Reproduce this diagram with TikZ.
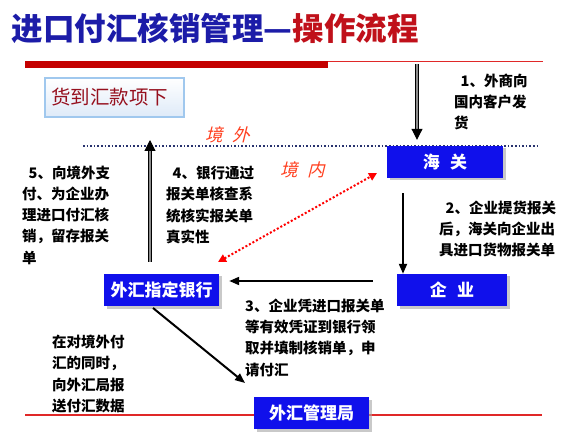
\documentclass[tikz,border=0pt]{standalone}
\usepackage{fontspec}
\setmainfont{Noto Sans CJK SC}
\newfontfamily\slantcjk{Noto Sans CJK SC}[FakeSlant=0.25]
\usetikzlibrary{arrows.meta,shadows}
\definecolor{titleblue}{RGB}{28,28,168}
\definecolor{titlered}{RGB}{192,16,26}
\definecolor{thickred}{RGB}{196,0,0}
\definecolor{thinred}{RGB}{224,40,40}
\definecolor{boxblue}{RGB}{16,16,235}
\definecolor{dotblue}{RGB}{40,50,110}
\definecolor{zoneread}{RGB}{255,64,32}
\definecolor{lightframe}{RGB}{160,200,238}
\definecolor{lightfill}{RGB}{222,234,248}
\definecolor{darkred}{RGB}{150,16,30}
\tikzset{
  bluebox/.style={fill=boxblue, text=white, inner sep=0pt, minimum height=32pt,
    font=\fontsize{17}{20}\selectfont\bfseries,
    drop shadow={shadow xshift=2.5pt, shadow yshift=-2.5pt, fill=black!35, opacity=0.6}},
  note/.style={anchor=west, inner sep=0pt, align=left, text=black,
    font=\fontsize{14.5}{21.3}\selectfont\bfseries},
  zone/.style={anchor=west, inner sep=0pt, text=zoneread,
    font=\fontsize{17.5}{20}\selectfont\slantcjk},
  greyarr/.style={draw=black, line width=1pt, double=black!45, double distance=1.6pt,
    -{Triangle[length=11pt,width=11pt]}},
  blackarr/.style={draw=black, line width=2pt, -{Triangle[length=10pt,width=8pt]}},
  redarr/.style={draw=red, line width=2pt, dash pattern=on 2pt off 2pt,
    {Triangle[length=8pt,width=8pt]}-{Triangle[length=8pt,width=8pt]}}
}
\begin{document}
\begin{tikzpicture}[x=1pt,y=-1pt]
\useasboundingbox (0,0) rectangle (564,435);
\fill[white] (0,0) rectangle (564,435);

% title
\node[anchor=west, inner sep=0pt] (title) at (11.5,28.5)
  {\fontsize{31.5}{36}\selectfont\bfseries\color{titleblue}进口付汇核销管理—\color{titlered}操作流程};

% decorative lines
\fill[thickred] (25,61) rectangle (328,68);
\draw[thinred, line width=1.2pt] (328,61.6) -- (543,61.6);
\draw[thinred, line width=1.2pt] (25,415) -- (542,415);
\draw[dotblue, line width=1.6pt, dash pattern=on 1.6pt off 2pt] (83,146) -- (537,146);

% header box
\node[anchor=west, draw=lightframe, line width=2pt, top color=white, bottom color=lightfill,
  inner xsep=6pt, text width=127pt, minimum height=39pt, align=left, text=darkred,
  font=\fontsize{19.5}{22}\selectfont] (huodao) at (44,97.5) {货到汇款项下};

% zone labels
\node[zone] (jingwai) at (205,135) {境\hspace{0.55em}外};
\node[zone] (jingnei) at (280,170) {境\hspace{0.55em}内};

% boxes
\node[bluebox, minimum width=116pt] (haiguan) at (445,162) {海\hspace{0.6em}关};
\node[bluebox, minimum width=110pt] (qiye) at (452,290) {企\hspace{0.6em}业};
\node[bluebox, minimum width=115pt] (bank) at (161.5,290) {外汇指定银行};
\node[bluebox, minimum width=115pt] (safe) at (311.5,413) {外汇管理局};

% notes
\node[note] (t1) at (454,102) {\hspace*{0.45em}1、外商向\\国内客户发\\货};
\node[note] (t2) at (439,229) {\hspace*{0.45em}2、企业提货报关\\后，海关向企业出\\具进口货物报关单};
\node[note] (t3) at (245,337.5) {3、企业凭进口报关单\\等有效凭证到银行领\\取并填制核销单，申\\请付汇};
\node[note] (t4) at (166,205) {\hspace*{0.45em}4、银行通过\\报关单核查系\\统核实报关单\\真实性};
\node[note] (t5) at (22,215) {\hspace*{0.45em}5、向境外支\\付、为企业办\\理进口付汇核\\销，留存报关\\单};
\node[note] (t6) at (52,374) {在对境外付\\汇的同时，\\向外汇局报\\送付汇数据};

% helper coordinates
\coordinate (c1) at (417,64);
\coordinate (c2) at (403,0);
\coordinate (c3) at (0,281);
\coordinate (c5) at (150,0);
\coordinate (c5e) at (150,140);
\coordinate (d1) at (153,308);
\coordinate (d2) at (245,383);
\coordinate (r1) at (218,262);
\coordinate (r2) at (377,173);

% connectors
\draw[greyarr, shorten >=6pt] (c1) -- (haiguan.north -| c1);
\draw[blackarr, shorten <=15pt] (haiguan.south -| c2) -- (qiye.north -| c2);
\draw[blackarr, shorten <=24pt, shorten >=10pt] (qiye.west |- c3) -- (bank.east |- c3);
\draw[blackarr] (d1) -- (d2);
\draw[greyarr, shorten <=12pt] (bank.north -| c5) -- (c5e);
\draw[redarr] (r1) -- (r2);
\end{tikzpicture}
\end{document}
